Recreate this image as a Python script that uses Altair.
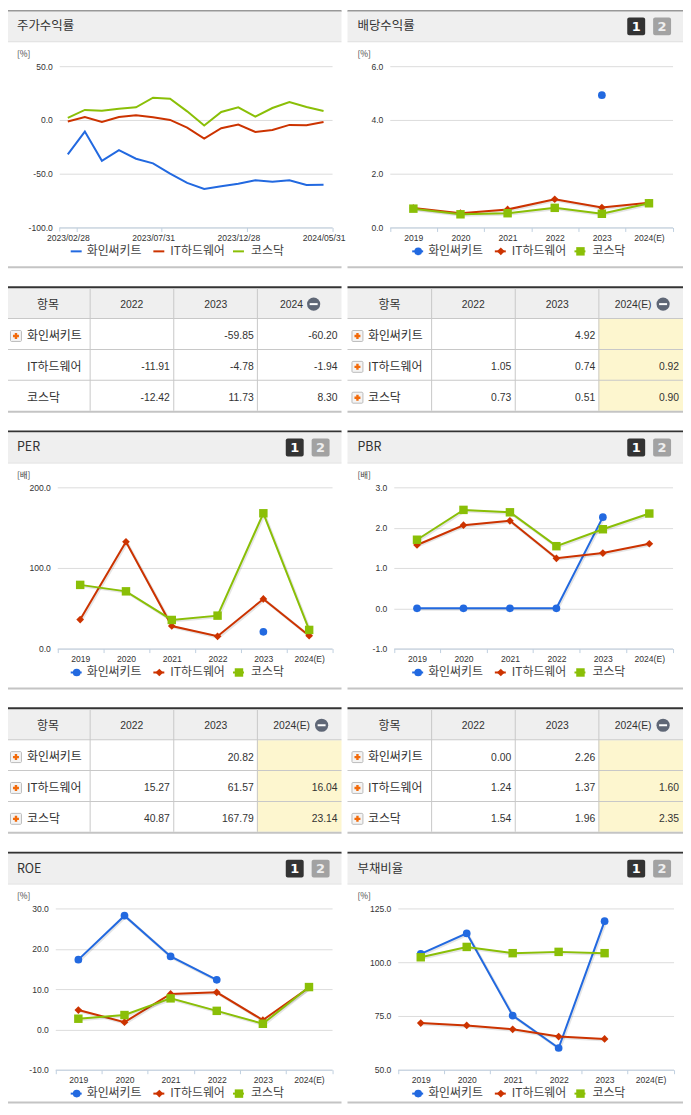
import altair as alt

NAMES = ["화인써키트", "IT하드웨어", "코스닥"]
COLORS = ["#2269e0", "#cc3300", "#8abf07"]
SHAPES = ["circle", "diamond", "square"]
SIZES = [60, 60, 72]
YEARS = ["2019", "2020", "2021", "2022", "2023", "2024(E)"]
DATES = ["2023/02/28", "2023/03/31", "2023/04/28", "2023/05/31", "2023/06/30", "2023/07/31", "2023/08/31", "2023/09/27",
         "2023/10/31", "2023/11/30", "2023/12/28", "2024/01/31", "2024/02/29", "2024/03/29", "2024/04/30", "2024/05/31"]
DATE_TICKS = ["2023/02/28", "2023/07/31", "2023/12/28", "2024/05/31"]

RET_A = [-32.1, -10.8, -38.0, -28.1, -36.1, -40.4, -50.0, -58.6, -64.2, -61.7, -59.3, -56.2, -57.4, -56.2, -60.5, -60.2]
RET_B = [-1.5, 2.8, -1.9, 2.8, 4.3, 2.5, 0.0, -7.1, -17.3, -7.7, -4.3, -11.1, -9.3, -4.6, -4.9, -1.94]
RET_C = [1.9, 9.3, 8.6, 10.5, 11.7, 20.7, 19.8, 8.0, -5.2, 7.4, 11.7, 3.0, 11.1, 16.7, 12.0, 8.3]

DIV_A = [None, None, None, None, 4.92, None]
DIV_B = [0.72, 0.53, 0.67, 1.05, 0.74, 0.92]
DIV_C = [0.70, 0.49, 0.53, 0.73, 0.51, 0.90]

PER_A = [None, None, None, None, 20.82, None]
PER_B = [36.0, 132.5, 28.0, 15.27, 61.57, 16.04]
PER_C = [79.0, 71.0, 35.5, 40.87, 167.79, 23.14]

PBR_A = [0.0, 0.0, 0.0, 0.0, 2.26, None]
PBR_B = [1.57, 2.06, 2.17, 1.24, 1.37, 1.60]
PBR_C = [1.70, 2.44, 2.38, 1.54, 1.96, 2.35]

ROE_A = [17.3, 28.2, 18.1, 12.3, None, None]
ROE_B = [4.8, 1.8, 8.8, 9.2, 2.3, 10.4]
ROE_C = [2.65, 3.56, 7.7, 4.6, 1.4, 10.5]

DEBT_A = [103.9, 113.4, 75.2, 60.1, 119.1, None]
DEBT_B = [71.7, 70.6, 68.8, 65.4, 64.3, None]
DEBT_C = [102.3, 107.1, 104.2, 104.8, 104.2, None]

T_RET = [[None, -59.85, -60.20], [-11.91, -4.78, -1.94], [-12.42, 11.73, 8.30]]
T_DIV = [[None, 4.92, None], [1.05, 0.74, 0.92], [0.73, 0.51, 0.90]]
T_PER = [[None, 20.82, None], [15.27, 61.57, 16.04], [40.87, 167.79, 23.14]]
T_PBR = [[0.00, 2.26, None], [1.24, 1.37, 1.60], [1.54, 1.96, 2.35]]

SANS = "Liberation Sans"
AXIS_SIZE = 8.6
TABLE_SIZE = 10.4
KR = "Noto Sans CJK KR"
INK = "#333333"
ONE = alt.Data(values=[{"k": 1}])
Y_LABEL = "replace(format(datum.value,'.1f'),'\u2212','-')"


def rect(x1, x2, y1, y2, color, **kw):
    return alt.Chart(ONE).mark_rect(color=color, **kw).encode(
        x=alt.value(x1), x2=alt.value(x2), y=alt.value(y1), y2=alt.value(y2))


def label(x, y, s, size=12, font=KR, color=INK, align="left", weight="normal"):
    return alt.Chart(ONE).mark_text(text=s, fontSize=size, font=font, color=color, align=align,
                                    baseline="middle", fontWeight=weight).encode(x=alt.value(x), y=alt.value(y))


def marker(x, y, i):
    return alt.Chart(ONE).mark_point(shape=SHAPES[i], size=SIZES[i], filled=True, color=COLORS[i], opacity=1).encode(
        x=alt.value(x), y=alt.value(y))


def chart_panel(title, unit, series, cats, domain, yticks, side, x0, x1, dy, height,
                buttons=True, markers=True, foot=258, legend_y=243):
    """x0, x1: plot edges as page x; dy: local y of the panel's top bar."""
    left, w = (8, 341) if side == 0 else (349, 337)
    ex0, ex1 = (0, 335) if side == 0 else (0, 337)
    L = []
    L.append(rect(ex0, ex1, max(dy, 0), dy + 2, "#333333"))
    L.append(rect(ex0, ex1, dy + 2, dy + 32, "#efefef"))
    L.append(rect(ex0, ex1, dy + 32, dy + 33, "#dddddd"))
    L.append(rect(ex0, ex1, dy + foot, dy + foot + 2, "#c4c4c4"))
    tx = (17 if side == 0 else 359) - left
    L.append(label(tx, dy + 17, title, size=12.5))
    L.append(label(tx, dy + 45, unit, size=8.5, color="#444444"))
    if buttons:
        b1, b2 = (287, 313) if side == 0 else (630, 656)
        L.append(rect(b1 - left, b1 + 18 - left, dy + 8, dy + 26, "#333333", cornerRadius=2))
        L.append(label(b1 + 9 - left, dy + 17.5, "1", size=13, font="DejaVu Sans", color="#ffffff", align="center", weight="bold"))
        L.append(rect(b2 - left, b2 + 18 - left, dy + 8, dy + 26, "#a2a2a2", cornerRadius=2))
        L.append(label(b2 + 9 - left, dy + 17.5, "2", size=13, font="DejaVu Sans", color="#eeeeee", align="center", weight="bold"))

    axis_y = dy + 219
    xkw = dict(title=None, labelAngle=0, domainColor="#c0d0e0", tickColor="#c0d0e0", tickSize=4, labelPadding=2,
               offset=-(height - axis_y), grid=False, labelOverlap=False, labelFont=SANS, labelFontSize=AXIS_SIZE,
               labelColor=INK, labelBound=False, labelFlush=False)
    if markers:
        xkw.update(tickBand="extent")
    else:
        step = (x1 - x0) / len(cats)
        xkw.update(values=DATE_TICKS, tickBand="center", tickOffset=step / 2, labelOffset=-step / 2)
    xaxis = alt.Axis(**xkw)
    yaxis = alt.Axis(title=None, values=yticks, labelExpr=Y_LABEL, grid=True, gridColor="#dcdcdc", gridWidth=1,
                     domain=False, ticks=False, labelPadding=7, offset=-(x0 - left), labelFont=SANS,
                     labelFontSize=AXIS_SIZE, labelColor=INK)
    X = alt.X("c:N", sort=None, axis=xaxis,
              scale=alt.Scale(type="band", domain=cats, range=[x0 - left, x1 - left], paddingInner=0, paddingOuter=0))
    Y = alt.Y("v:Q", axis=yaxis, scale=alt.Scale(domain=domain, range=[axis_y, dy + 57], nice=False, zero=False))
    if not markers:
        L.append(rect(x0 - left, x0 - left + 1, axis_y, axis_y + 4, "#c0d0e0"))
    for i in range(3):
        rows = [{"c": c, "v": v} for c, v in zip(cats, series[i]) if v is not None]
        d = alt.Data(values=rows)
        if markers:
            L.append(alt.Chart(d).mark_line(color="#000000", opacity=0.1, strokeWidth=3, xOffset=1, yOffset=1).encode(x=X, y=Y))
        L.append(alt.Chart(d).mark_line(color=COLORS[i], strokeWidth=2).encode(x=X, y=Y))
        if markers:
            L.append(alt.Chart(d).mark_point(shape=SHAPES[i], size=SIZES[i], filled=True, color=COLORS[i], opacity=1).encode(x=X, y=Y))
    # legend
    sym = [71, 154, 234] if side == 0 else [414, 497, 577]
    txt = [87, 171, 252] if side == 0 else [430, 514, 595]
    ly = dy + legend_y
    for i in range(3):
        L.append(rect(sym[i] - left, sym[i] + 11 - left, ly - 1, ly + 1, COLORS[i]))
        if markers:
            L.append(marker(sym[i] + 6 - left, ly, i))
        L.append(label(txt[i] - left, ly - 0.5, NAMES[i], size=12, color="#444444"))
    return alt.layer(*L).properties(width=w, height=height)


def table_panel(head, values, side, plus, yellow, head_dx, minus_x):
    left, w = (8, 341) if side == 0 else (349, 337)
    a = (6 if side == 0 else 349) - left
    b = (343 if side == 0 else 686) - left
    cols = ["항목", "2022", "2023", head]
    rows = ["항목"] + NAMES
    XS = alt.Scale(type="band", domain=cols, range=[a, b], paddingInner=0, paddingOuter=0)
    YS = alt.Scale(type="band", domain=rows, range=[2, 126], paddingInner=0, paddingOuter=0)
    ya = alt.Y("r:N", scale=YS, axis=None, sort=None)
    xa = alt.X("c:N", scale=XS, axis=None, sort=None)
    ex0 = max(a, 0)
    L = []
    L.append(rect(ex0, b, 2, 32, "#efefef"))
    if yellow:
        L.append(rect(a + 252, b, 33, 125, "#fdf6cf"))
    L.append(rect(ex0, b, 0, 2, "#333333"))
    for yy in (32, 63, 94):
        L.append(rect(ex0, b, yy, yy + 1, "#c8c8c8"))
    L.append(rect(ex0, b, 125, 127, "#c4c4c4"))
    for k in (84, 168, 252):
        L.append(rect(a + k, a + k + 1, 2, 125, "#c8c8c8"))
    hd = alt.Data(values=[{"c": c, "r": "항목"} for c in cols[1:3]])
    L.append(alt.Chart(hd).mark_text(fontSize=TABLE_SIZE, font=SANS, color=INK, dy=1).encode(x=xa, y=ya, text="c:N"))
    L.append(alt.Chart(alt.Data(values=[{"c": "항목", "r": "항목"}])).mark_text(fontSize=12, font=KR, color=INK, dy=1).encode(x=xa, y=ya, text="c:N"))
    L.append(alt.Chart(alt.Data(values=[{"c": head, "r": "항목"}])).mark_text(fontSize=TABLE_SIZE, font=SANS, color=INK, dx=head_dx, dy=1).encode(x=xa, y=ya, text="c:N"))
    L.append(alt.Chart(ONE).mark_point(shape="circle", size=176, filled=True, color="#5f6776", opacity=1).encode(x=alt.value(minus_x - left), y=alt.value(18)))
    L.append(rect(minus_x - left - 4, minus_x - left + 4, 17, 19, "#ffffff"))
    lx = (27 if side == 0 else 369.5) - left
    nd = alt.Data(values=[{"r": n} for n in NAMES])
    L.append(alt.Chart(nd).mark_text(fontSize=12, font=KR, color=INK, align="left", dy=1.5).encode(x=alt.value(lx), y=ya, text="r:N"))
    ic = (10 if side == 0 else 353) - left
    for i, n in enumerate(NAMES):
        if plus[i]:
            cy = 32 + 31 * i + 18
            L.append(alt.Chart(ONE).mark_rect(color="#f4f4f4", stroke="#bbbbbb", strokeWidth=1, cornerRadius=1).encode(
                x=alt.value(ic + 0.5), x2=alt.value(ic + 11.5), y=alt.value(cy - 5.5), y2=alt.value(cy + 5.5)))
            L.append(alt.Chart(ONE).mark_point(shape="cross", size=36, filled=True, color="#f26a0a", opacity=1).encode(
                x=alt.value(ic + 6), y=alt.value(cy)))
    cells = []
    for n, row in zip(NAMES, values):
        for c, v in zip(cols[1:], row):
            if v is not None:
                cells.append({"c": c, "r": n, "t": f"{v:.2f}"})
    xr = alt.X("c:N", scale=XS, axis=None, sort=None, bandPosition=1)
    L.append(alt.Chart(alt.Data(values=cells)).mark_text(fontSize=TABLE_SIZE, font=SANS, color=INK, align="right", dx=-4, dy=2).encode(x=xr, y=ya, text="t:N"))
    return alt.layer(*L).properties(width=w, height=145)


cells = [
    chart_panel("주가수익률", "[%]", [RET_A, RET_B, RET_C], DATES, [-100, 50], [-100, -50, 0, 50], 0, 59.5, 333.5, -1, 277, buttons=False, markers=False),
    chart_panel("배당수익률", "[%]", [DIV_A, DIV_B, DIV_C], YEARS, [0, 6], [0, 2, 4, 6], 1, 391.5, 675.5, -1, 277),
    table_panel("2024", T_RET, 0, [True, False, False], False, -8, 315),
    table_panel("2024(E)", T_DIV, 1, [True, True, True], True, -8, 666),
    chart_panel("PER", "[배]", [PER_A, PER_B, PER_C], YEARS, [0, 200], [0, 100, 200], 0, 57.5, 333.5, 0, 278),
    chart_panel("PBR", "[배]", [PBR_A, PBR_B, PBR_C], YEARS, [-1, 3], [-1, 0, 1, 2, 3], 1, 395.5, 675.5, 0, 278),
    table_panel("2024(E)", T_PER, 0, [True, True, True], True, -8, 323),
    table_panel("2024(E)", T_PBR, 1, [True, True, True], True, -8, 666),
    chart_panel("ROE", "[%]", [ROE_A, ROE_B, ROE_C], YEARS, [-10, 30], [-10, 0, 10, 20, 30], 0, 55.5, 333.5, 0, 253, foot=251),
    chart_panel("부채비율", "[%]", [DEBT_A, DEBT_B, DEBT_C], YEARS, [50, 125], [50, 75, 100, 125], 1, 399.5, 676.5, 0, 253, foot=251),
]

chart = alt.concat(*cells, columns=2, spacing=0, bounds="flush").properties(padding=0).configure_view(stroke=None)
chart.save("out.html", embed_options={"renderer": "svg", "actions": False})
